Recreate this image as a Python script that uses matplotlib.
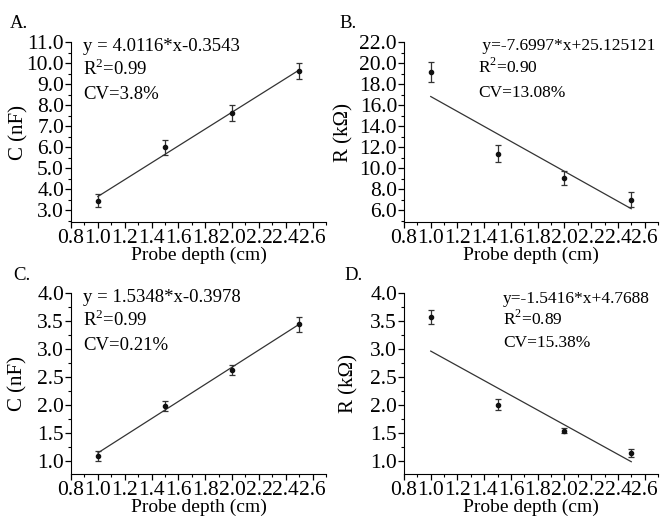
import matplotlib
matplotlib.use("Agg")
import matplotlib.pyplot as plt
from matplotlib.ticker import MultipleLocator, FormatStrFormatter

plt.rcParams['font.family'] = ['Liberation Serif', 'DejaVu Serif']
plt.rcParams['mathtext.fontset'] = 'custom'
plt.rcParams['mathtext.rm'] = 'Liberation Serif'

# probe depth (cm)
depth = [1.0, 1.5, 2.0, 2.5]
fit_x = [1.0, 2.5]

# A. capacitance
cap_a = [3.47, 6.0, 7.62, 9.64]
cap_a_err = [0.31, 0.36, 0.37, 0.38]
fit_a = [3.66, 9.67]

# B. resistance
res_b = [19.15, 11.4, 9.09, 7.03]
res_b_err = [0.93, 0.8, 0.66, 0.7]
fit_b = [16.82, 6.16]

# C. capacitance
cap_c = [1.09, 1.97, 2.63, 3.44]
cap_c_err = [0.09, 0.09, 0.09, 0.13]
fit_c = [1.137, 3.44]

# D. resistance
res_d = [3.57, 2.0, 1.53, 1.14]
res_d_err = [0.12, 0.1, 0.045, 0.07]
fit_d = [2.96, 0.98]

labels = ['A.', 'B.', 'C.', 'D.']
ylabels = ['C (nF)', 'R (k\u03a9)', 'C (nF)', 'R (k\u03a9)']
ann = [
    ['y = 4.0116*x-0.3543', 'R$^2$=0.99', 'CV=3.8%'],
    [' y=-7.6997*x+25.125121', 'R$^2$=0.90', 'CV=13.08%'],
    ['y = 1.5348*x-0.3978', 'R$^2$=0.99', 'CV=0.21%'],
    ['y=-1.5416*x+4.7688', 'R$^2$=0.89', 'CV=15.38%'],
]
ann_size = [13.5, 12.5, 13.5, 12.5]

W, H = 662, 516
fig = plt.figure(figsize=(W / 100, H / 100), dpi=100)

# axes boxes in pixels: left, top, right, bottom
boxes = [(71, 42, 326, 222), (404, 42, 658, 222),
         (71, 293, 326, 474), (404, 293, 658, 474)]
ylims = [(2.45, 11.0), (4.9, 22.0), (0.76, 4.0), (0.76, 4.0)]
ysteps = [1.0, 2.0, 0.5, 0.5]
ydata = [(cap_a, cap_a_err, fit_a), (res_b, res_b_err, fit_b),
         (cap_c, cap_c_err, fit_c), (res_d, res_d_err, fit_d)]
ylab_x = [-0.167, -0.199, -0.17, -0.179]
# panel label pos and annotation positions (pixels)
lab_pos = [(10, 28), (339, 28), (13, 280), (344, 280)]
ann_pos = [[(83, 51), (83, 75), (83, 99)],
           [(478, 50), (478, 73), (478, 97)],
           [(83, 302), (83, 326), (83, 350)],
           [(503, 303), (503, 325), (503, 347)]]

for i in range(4):
    l, t, r, b = boxes[i]
    ax = fig.add_axes([l / W, 1 - b / H, (r - l) / W, (b - t) / H])
    y, yerr, fit = ydata[i]
    ax.plot(fit_x, fit, color='#333333', lw=0.9)
    ax.errorbar(depth, y, yerr=yerr, fmt='o', ms=3, color='#111111',
                ecolor='#333333', elinewidth=0.9, capsize=2.5, capthick=0.9)
    ax.set_xlim(0.8, 2.7)
    ax.set_ylim(*ylims[i])
    ax.xaxis.set_major_locator(MultipleLocator(0.2))
    ax.xaxis.set_minor_locator(MultipleLocator(0.1))
    ax.yaxis.set_major_locator(MultipleLocator(ysteps[i]))
    ax.yaxis.set_minor_locator(MultipleLocator(ysteps[i] / 2))
    ax.xaxis.set_major_formatter(FormatStrFormatter('%.1f'))
    ax.yaxis.set_major_formatter(FormatStrFormatter('%.1f'))
    for s in ['top', 'right']:
        ax.spines[s].set_visible(False)
    ax.tick_params(which='major', direction='out', length=4, width=0.9,
                   labelsize=15.5, pad=1)
    ax.tick_params(which='minor', direction='out', length=2.5, width=0.8)
    ax.set_xlabel('Probe depth (cm)', fontsize=14, labelpad=-1)
    ax.set_ylabel(ylabels[i], fontsize=15)
    ax.yaxis.set_label_coords(ylab_x[i], 0.5)
    fig.text(lab_pos[i][0] / W, 1 - lab_pos[i][1] / H, labels[i],
             fontsize=13.5, va='baseline')
    for txt, (px, py) in zip(ann[i], ann_pos[i]):
        fig.text(px / W, 1 - py / H, txt, fontsize=ann_size[i], va='baseline')

fig.savefig('out.png', dpi=100)
